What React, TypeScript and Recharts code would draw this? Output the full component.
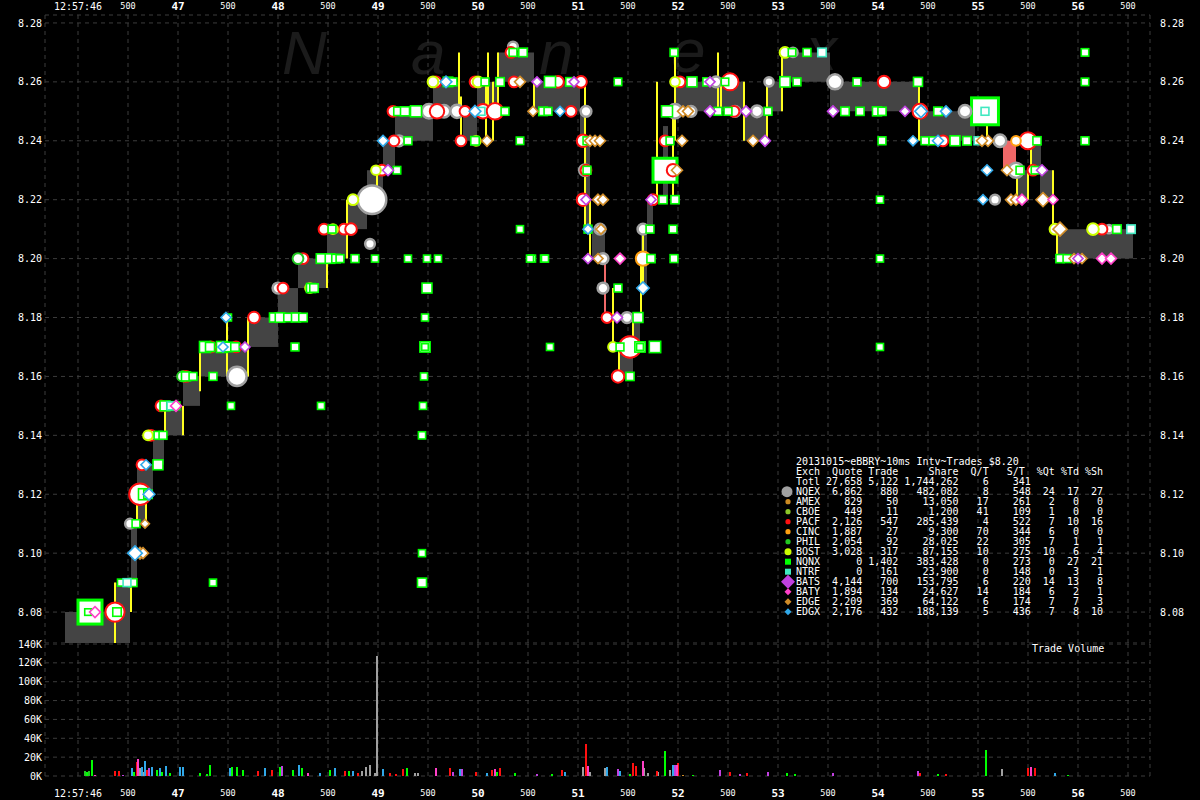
import { ComposedChart, Scatter, Bar, XAxis, YAxis, CartesianGrid, ReferenceArea, ReferenceLine } from "recharts"

// time axis: seconds after 12:57:00, ticks every 500ms
const TIME_DOMAIN = [45.67, 56.72]
const TIME_TICKS = [46, 46.5, 47, 47.5, 48, 48.5, 49, 49.5, 50, 50.5, 51, 51.5, 52, 52.5, 53, 53.5, 54, 54.5, 55, 55.5, 56, 56.5]
const PRICE_DOMAIN = [8.0695, 8.2827]
const PRICE_TICKS = [8.08, 8.1, 8.12, 8.14, 8.16, 8.18, 8.2, 8.22, 8.24, 8.26, 8.28]
const VOL_TICKS = [0, 20000, 40000, 60000, 80000, 100000, 120000, 140000]

// NBBO spread blocks: [from, to, bid, ask]
const NBBO_BANDS = [
  [45.87, 46.37, 8.0695, 8.08], [46.37, 46.52, 8.0695, 8.09], [46.53, 46.59, 8.09, 8.11],
  [46.59, 46.67, 8.11, 8.13], [46.67, 46.75, 8.12, 8.13], [46.75, 46.86, 8.13, 8.14],
  [46.88, 47.05, 8.14, 8.15], [47.05, 47.22, 8.15, 8.16], [47.22, 47.49, 8.16, 8.17],
  [47.5, 47.7, 8.16, 8.17], [47.7, 48.0, 8.17, 8.18], [48.0, 48.2, 8.18, 8.19],
  [48.2, 48.49, 8.19, 8.2], [48.49, 48.69, 8.2, 8.21], [48.69, 48.89, 8.21, 8.22],
  [48.89, 49.05, 8.22, 8.23], [49.05, 49.17, 8.23, 8.24], [49.17, 49.55, 8.24, 8.25],
  [49.55, 49.8, 8.25, 8.26], [49.85, 49.99, 8.24, 8.25], [49.99, 50.19, 8.25, 8.26],
  [50.2, 50.56, 8.26, 8.27], [50.56, 51.02, 8.25, 8.26], [51.02, 51.07, 8.24, 8.25],
  [51.07, 51.12, 8.21, 8.24], [51.14, 51.27, 8.2, 8.21], [51.4, 51.55, 8.16, 8.17],
  [51.54, 51.62, 8.17, 8.18], [51.63, 51.69, 8.19, 8.21], [51.69, 51.75, 8.21, 8.22],
  [51.85, 51.9, 8.22, 8.245], [51.96, 52.67, 8.25, 8.26], [52.67, 52.89, 8.24, 8.25],
  [52.89, 53.05, 8.25, 8.26], [53.05, 53.52, 8.26, 8.27], [53.52, 54.42, 8.25, 8.26],
  [54.42, 54.97, 8.24, 8.25], [55.39, 55.5, 8.22, 8.23], [55.52, 55.63, 8.23, 8.24],
  [55.62, 55.75, 8.22, 8.23], [55.8, 56.55, 8.2, 8.21],
]
// crossed / locked spots
const CROSSED_BANDS = [[55.25, 55.38, 8.23, 8.24], [51.26, 51.28, 8.18, 8.2]]

// trade connectors: [time, low, high]
const TRADE_LINKS = [
  [46.37, 8.0695, 8.09], [46.53, 8.08, 8.09], [46.59, 8.11, 8.12], [46.68, 8.11, 8.12],
  [46.87, 8.14, 8.15], [47.05, 8.14, 8.15], [47.22, 8.155, 8.17], [47.49, 8.16, 8.18],
  [47.7, 8.16, 8.18], [48.49, 8.19, 8.2], [48.69, 8.2, 8.22], [48.99, 8.22, 8.23],
  [49.81, 8.25, 8.27], [49.83, 8.24, 8.255], [50.08, 8.24, 8.26], [50.1, 8.25, 8.27],
  [50.15, 8.24, 8.26], [50.2, 8.25, 8.27], [50.56, 8.25, 8.26], [51.07, 8.21, 8.26],
  [51.12, 8.2, 8.22], [51.35, 8.17, 8.19], [51.41, 8.16, 8.17], [51.55, 8.17, 8.18],
  [51.63, 8.18, 8.2], [51.65, 8.19, 8.21], [51.79, 8.22, 8.26], [51.97, 8.24, 8.27],
  [51.95, 8.22, 8.25], [52.4, 8.25, 8.27], [52.43, 8.25, 8.26], [52.66, 8.24, 8.26],
  [52.89, 8.24, 8.26], [53.04, 8.25, 8.27], [54.41, 8.24, 8.26], [55.09, 8.24, 8.25],
  [55.39, 8.22, 8.23], [55.5, 8.22, 8.23], [55.53, 8.23, 8.24], [55.75, 8.21, 8.23],
  [55.79, 8.2, 8.21],
]

// trades / quotes: [time, price, shares]
const NQNX_TRADES = [
  [46.12, 8.08, 9000], [46.1, 8.08, 60], [46.39, 8.08, 300], [46.43, 8.09, 100], [46.55, 8.09, 200],
  [46.58, 8.11, 200], [46.66, 8.12, 900], [46.7, 8.12, 300], [46.8, 8.13, 600], [46.8, 8.14, 200],
  [46.85, 8.14, 200], [46.87, 8.15, 600], [46.93, 8.15, 300], [46.98, 8.15, 200], [47.08, 8.16, 400],
  [47.15, 8.16, 200], [47.35, 8.16, 200], [47.27, 8.17, 900], [47.32, 8.17, 400], [47.44, 8.17, 900],
  [47.5, 8.17, 500], [47.57, 8.17, 300], [47.5, 8.18, 100], [47.53, 8.15, 100], [47.35, 8.09, 100],
  [48.17, 8.17, 200], [47.96, 8.18, 400], [48.02, 8.18, 500], [48.1, 8.18, 300], [48.18, 8.18, 400],
  [48.25, 8.18, 300], [48.43, 8.15, 100], [48.33, 8.19, 400], [48.36, 8.19, 300], [48.43, 8.2, 500],
  [48.52, 8.2, 500], [48.58, 8.2, 300], [48.62, 8.2, 200], [48.77, 8.2, 200], [48.97, 8.2, 100],
  [48.54, 8.21, 200], [49.3, 8.2, 100], [49.49, 8.2, 100], [49.6, 8.2, 100], [50.54, 8.2, 100],
  [50.66, 8.2, 100], [50.42, 8.21, 100], [49.49, 8.19, 600], [49.47, 8.18, 100], [49.47, 8.17, 700],
  [49.47, 8.17, 60], [50.72, 8.17, 100], [49.46, 8.16, 100], [49.45, 8.15, 100], [49.44, 8.14, 120],
  [49.44, 8.1, 100], [49.44, 8.09, 400], [50.35, 8.27, 200], [50.45, 8.27, 300], [49.7, 8.26, 500],
  [49.75, 8.26, 200], [50.07, 8.26, 200], [50.22, 8.26, 300], [50.72, 8.26, 900], [50.92, 8.26, 300],
  [49.2, 8.25, 300], [49.27, 8.25, 400], [49.38, 8.25, 900], [50.27, 8.25, 200], [50.65, 8.25, 300],
  [50.7, 8.25, 200], [49.3, 8.24, 200], [49.97, 8.24, 300], [50.42, 8.24, 150], [49.19, 8.23, 150],
  [51.09, 8.24, 200], [51.09, 8.23, 200], [51.1, 8.21, 200], [51.4, 8.19, 200], [51.6, 8.18, 600],
  [51.42, 8.17, 200], [51.62, 8.17, 700], [51.62, 8.17, 80], [51.77, 8.17, 1000], [51.52, 8.16, 250],
  [51.73, 8.2, 250], [51.96, 8.2, 200], [51.72, 8.21, 200], [51.95, 8.21, 200], [51.85, 8.22, 250],
  [51.97, 8.22, 250], [51.87, 8.23, 9000], [51.92, 8.24, 200], [51.4, 8.26, 150], [51.96, 8.27, 200],
  [53.14, 8.27, 150], [53.29, 8.27, 200], [52.14, 8.26, 600], [52.29, 8.26, 250], [52.47, 8.26, 150],
  [53.07, 8.26, 700], [53.19, 8.26, 200], [53.79, 8.26, 200], [51.89, 8.25, 900], [52.4, 8.25, 200],
  [52.5, 8.25, 200], [52.9, 8.25, 200], [53.67, 8.25, 300], [53.82, 8.25, 250], [53.99, 8.25, 400],
  [54.04, 8.25, 250], [54.04, 8.24, 200], [54.02, 8.22, 100], [54.02, 8.2, 100], [54.02, 8.17, 100],
  [54.4, 8.26, 400], [56.07, 8.26, 150], [56.07, 8.27, 150], [54.6, 8.25, 300], [55.07, 8.25, 12000],
  [54.47, 8.24, 200], [54.55, 8.24, 200], [54.77, 8.24, 600], [54.89, 8.24, 300], [55.59, 8.24, 250],
  [56.07, 8.24, 200], [55.42, 8.23, 200], [55.57, 8.23, 150], [56.39, 8.21, 300], [55.82, 8.2, 250],
  [55.89, 8.2, 200], [50.52, 8.2, 100], [50.67, 8.2, 100],
]
const NTRF_TRADES = [
  [46.49, 8.09, 200], [46.93, 8.15, 200], [50.03, 8.25, 200], [53.44, 8.27, 300],
  [55.07, 8.25, 200], [55.0, 8.24, 200], [56.53, 8.21, 300],
]
const NQEX_QUOTES = [
  [46.52, 8.11, 200], [48.94, 8.22, 5000], [48.92, 8.205, 200], [47.59, 8.16, 1800], [48.0, 8.19, 300],
  [49.51, 8.25, 800], [49.66, 8.25, 500], [49.79, 8.25, 600], [49.21, 8.24, 300], [50.35, 8.272, 200],
  [51.08, 8.25, 300], [51.07, 8.23, 400], [51.22, 8.21, 300], [51.25, 8.2, 300], [51.25, 8.19, 300],
  [51.49, 8.18, 300], [51.65, 8.21, 300], [51.97, 8.25, 800], [53.57, 8.26, 900], [54.87, 8.25, 500],
  [55.22, 8.24, 500], [55.38, 8.23, 900], [55.17, 8.22, 200], [56.31, 8.21, 100], [52.13, 8.25, 300],
  [52.57, 8.25, 300], [52.79, 8.25, 400], [53.15, 8.27, 150], [52.91, 8.26, 150], [52.38, 8.26, 300],
]
const PACF_QUOTES = [
  [46.37, 8.08, 1800], [46.62, 8.12, 2500], [46.64, 8.13, 300], [46.73, 8.14, 300], [46.83, 8.15, 300],
  [47.08, 8.16, 300], [47.33, 8.17, 300], [47.58, 8.17, 300], [47.76, 8.18, 400], [48.05, 8.19, 300],
  [48.25, 8.2, 300], [48.46, 8.21, 300], [48.66, 8.21, 300], [48.73, 8.21, 400], [49.04, 8.23, 300],
  [49.16, 8.24, 300], [49.15, 8.25, 300], [49.59, 8.25, 800], [49.87, 8.25, 300], [50.05, 8.25, 800],
  [50.17, 8.25, 1200], [49.58, 8.26, 300], [49.97, 8.26, 300], [50.33, 8.27, 300], [50.36, 8.26, 300],
  [50.8, 8.26, 400], [50.93, 8.25, 300], [51.03, 8.26, 400], [49.83, 8.24, 300], [51.05, 8.24, 500],
  [51.08, 8.23, 300], [51.05, 8.22, 500], [51.29, 8.18, 300], [51.52, 8.17, 2500], [51.4, 8.16, 500],
  [51.75, 8.22, 300], [51.87, 8.24, 300], [51.95, 8.23, 500], [52.02, 8.26, 300], [52.52, 8.26, 1300],
  [52.56, 8.25, 300], [54.06, 8.26, 500], [54.42, 8.25, 900], [54.65, 8.24, 300], [55.5, 8.24, 1300],
  [55.55, 8.23, 300], [56.24, 8.21, 300],
]
const BOST_QUOTES = [
  [46.7, 8.14, 200], [47.05, 8.16, 200], [48.32, 8.19, 200], [48.75, 8.22, 300], [48.98, 8.23, 200],
  [49.55, 8.26, 300], [50.0, 8.26, 300], [49.98, 8.24, 200], [51.35, 8.17, 200], [51.97, 8.26, 200],
  [53.07, 8.27, 300], [55.77, 8.21, 300], [56.15, 8.21, 400], [48.55, 8.21, 200],
]
const PHIL_QUOTES = [[48.2, 8.2, 300], [47.04, 8.16, 200], [46.52, 8.09, 100]]
const CINC_QUOTES = [[51.65, 8.2, 800], [55.38, 8.24, 200]]
const BATS_QUOTES = [
  [47.67, 8.17, 200], [49.1, 8.23, 300], [51.1, 8.2, 200], [51.08, 8.22, 200], [51.39, 8.18, 300],
  [51.73, 8.22, 200], [52.32, 8.26, 200], [52.32, 8.25, 300], [52.68, 8.25, 300], [52.87, 8.24, 300],
  [53.55, 8.25, 300], [55.64, 8.23, 300], [50.59, 8.26, 200], [50.96, 8.26, 200], [54.27, 8.25, 200],
  [56.0, 8.2, 200],
]
const BATY_QUOTES = [
  [46.17, 8.08, 300], [46.98, 8.15, 300], [51.42, 8.2, 300], [55.44, 8.22, 300], [55.75, 8.22, 200],
  [56.24, 8.2, 300], [56.33, 8.2, 300],
]
const EDGE_QUOTES = [
  [46.62, 8.1, 400], [46.65, 8.1, 300], [46.67, 8.11, 100], [50.42, 8.26, 300], [50.55, 8.25, 200],
  [50.09, 8.24, 300], [51.12, 8.24, 300], [51.17, 8.24, 300], [51.22, 8.24, 300], [51.2, 8.22, 300],
  [51.25, 8.22, 300], [51.23, 8.21, 200], [51.2, 8.2, 200], [51.99, 8.23, 300], [52.05, 8.25, 300],
  [52.1, 8.25, 300], [52.04, 8.24, 300], [52.75, 8.24, 300], [55.1, 8.24, 300], [55.29, 8.23, 300],
  [55.33, 8.22, 300], [55.38, 8.22, 300], [55.65, 8.22, 800], [55.82, 8.21, 800], [55.96, 8.2, 200],
  [56.04, 8.2, 200], [55.04, 8.24, 300],
]
const EDGX_QUOTES = [
  [46.57, 8.1, 900], [46.71, 8.12, 400], [46.68, 8.13, 200], [47.45, 8.17, 200], [47.48, 8.18, 200],
  [49.05, 8.24, 300], [49.97, 8.25, 400], [49.68, 8.26, 400], [50.82, 8.25, 200], [51.65, 8.19, 500],
  [51.1, 8.21, 200], [54.43, 8.25, 500], [54.68, 8.25, 300], [54.6, 8.24, 300], [55.09, 8.23, 300],
  [55.05, 8.22, 200], [54.35, 8.24, 200],
]

// trade volume bars: [time, exchange, shares]
const TRADE_VOLUME = [
  [46.07, "PHIL", 5000], [46.09, "NQNX", 4500], [46.11, "PHIL", 5000], [46.14, "NQNX", 17000], [46.17, "BATY", 1000],
  [46.37, "PACF", 5000], [46.41, "PACF", 5000], [46.45, "BATS", 1500], [46.54, "EDGX", 9000], [46.56, "NQNX", 4000],
  [46.59, "PACF", 15000], [46.6, "BATY", 18000], [46.62, "NQEX", 8000], [46.64, "EDGX", 10000], [46.66, "NQEX", 4000],
  [46.67, "EDGX", 16000], [46.69, "PACF", 6000], [46.71, "BATS", 9000], [46.74, "EDGX", 10000], [46.79, "NQNX", 6000],
  [46.82, "EDGX", 9000], [46.84, "NQNX", 4000], [46.88, "EDGX", 11000], [46.92, "NQNX", 3000], [47.02, "EDGX", 10000],
  [47.05, "EDGX", 10000], [47.22, "NQNX", 3000], [47.29, "NQNX", 2000], [47.32, "NQNX", 12000], [47.52, "EDGX", 9000],
  [47.54, "NQNX", 10000], [47.59, "NQNX", 10000], [47.65, "NQNX", 6000], [47.8, "PACF", 5000], [47.87, "EDGX", 8000],
  [47.94, "PACF", 6000], [48.02, "NQNX", 10000], [48.04, "BATS", 11000], [48.15, "NQNX", 6000], [48.21, "EDGX", 12000],
  [48.24, "NQNX", 9000], [48.3, "BATY", 3000], [48.42, "EDGX", 3000], [48.52, "NQNX", 6000], [48.57, "EDGX", 9000],
  [48.67, "PACF", 5000], [48.71, "NQNX", 5000], [48.75, "EDGX", 5000], [48.8, "PACF", 3000], [48.84, "NQEX", 5000],
  [48.88, "NQEX", 10000], [48.92, "NQEX", 12000], [48.97, "NQEX", 3000], [48.99, "NQEX", 127000], [49.05, "EDGX", 7000],
  [49.12, "PACF", 3000], [49.18, "PACF", 2000], [49.25, "PACF", 7000], [49.29, "NQNX", 8000], [49.37, "NQEX", 3000],
  [49.4, "NQEX", 3000], [49.58, "BATY", 9000], [49.72, "PACF", 9000], [49.75, "BATS", 4000], [49.82, "EDGX", 7000],
  [49.84, "BATS", 7000], [49.98, "PACF", 4000], [50.09, "EDGX", 3000], [50.14, "PACF", 6000], [50.17, "BATY", 7000],
  [50.19, "NQNX", 4000], [50.22, "PACF", 8000], [50.37, "NQNX", 3000], [50.59, "BATS", 2000], [50.74, "NQNX", 2000],
  [50.84, "PACF", 6000], [50.87, "EDGX", 4000], [51.05, "NQEX", 10000], [51.08, "PACF", 34000], [51.1, "BATY", 11000],
  [51.12, "NQEX", 4000], [51.27, "NQEX", 9000], [51.29, "EDGX", 10000], [51.4, "BATS", 7000], [51.42, "EDGX", 5000],
  [51.52, "NQNX", 2000], [51.55, "PACF", 14000], [51.58, "PACF", 11000], [51.65, "BATY", 16000], [51.66, "NQEX", 8000],
  [51.7, "NQEX", 3000], [51.79, "PACF", 5000], [51.8, "NQEX", 4000], [51.87, "NQNX", 26000], [51.92, "NQEX", 6000],
  [51.95, "EDGX", 12000], [51.97, "BATS", 12000], [51.99, "BATY", 12000], [52.0, "PACF", 14000], [52.05, "EDGE", 1000],
  [52.15, "NQNX", 1000], [52.42, "BATS", 6000], [52.52, "PACF", 4000], [52.62, "BATS", 2000], [52.69, "PACF", 3000],
  [52.9, "BATS", 4000], [53.09, "NQNX", 3000], [53.17, "NQNX", 2000], [53.55, "BATS", 3000], [54.4, "BATS", 5000],
  [54.42, "PACF", 3000], [54.6, "NQNX", 2000], [54.68, "PACF", 2000], [55.08, "NQNX", 28000], [55.24, "NQEX", 7000],
  [55.5, "PACF", 9000], [55.53, "BATY", 10000], [55.57, "PACF", 8000], [55.77, "EDGX", 3000], [55.9, "NQNX", 1500],
]

// summary table
const EXCHANGES = ["NQEX", "AMEX", "CBOE", "PACF", "CINC", "PHIL", "BOST", "NQNX", "NTRF", "BATS", "BATY", "EDGE", "EDGX"]
const EX_QUOTES = [6862, 829, 449, 2126, 1887, 2054, 3028, 0, 0, 4144, 1894, 2209, 2176]
const EX_TRADES = [880, 50, 11, 547, 27, 92, 317, 1402, 161, 700, 134, 369, 432]
const EX_SHARES = [482082, 13050, 1200, 285439, 9300, 28025, 87155, 383428, 23900, 153795, 24627, 64122, 188139]
const EX_QT = [8, 17, 41, 4, 70, 22, 10, 0, 0, 6, 14, 6, 5]
const EX_ST = [548, 261, 109, 522, 344, 305, 275, 273, 148, 220, 184, 174, 436]
const EX_PCT_QT = [24, 2, 1, 7, 6, 7, 10, 0, 0, 14, 6, 7, 7]
const EX_PCT_TD = [17, 0, 0, 10, 0, 1, 6, 27, 3, 13, 2, 7, 8]
const EX_PCT_SH = [27, 0, 0, 16, 0, 1, 4, 21, 1, 8, 1, 3, 10]
const TOTALS = [27658, 5122, 1744262, 6, 341]

const COLORS: Record<string, string> = {
  NQEX: "#a0a0a0", AMEX: "#cc8a22", CBOE: "#8cc628", PACF: "#ff1010", CINC: "#ffa010",
  PHIL: "#22c822", BOST: "#ccff00", NQNX: "#00ff00", NTRF: "#40e8c0", BATS: "#c040e0",
  BATY: "#ff40c8", EDGE: "#d08c28", EDGX: "#30a8e8",
}
const MARKER: Record<string, string> = {
  NQEX: "circle", AMEX: "circle", CBOE: "circle", PACF: "circle", CINC: "circle", PHIL: "circle",
  BOST: "circle", NQNX: "square", NTRF: "square", BATS: "diamond", BATY: "diamond", EDGE: "diamond", EDGX: "diamond",
}

const MONO = "'DejaVu Sans Mono', monospace"
const toPts = (rows: number[][]) => rows.map(([t, p, s]) => ({ t, p, s }))

const volRows = (() => {
  const m = new Map<number, any>()
  for (const [t, ex, v] of TRADE_VOLUME as any[]) {
    const r = m.get(t) ?? { t }
    r[ex] = (r[ex] ?? 0) + v
    m.set(t, r)
  }
  return [...m.values()].sort((a, b) => a.t - b.t)
})()

const makeShape = (ex: string) => (props: any) => {
  const { cx, cy, payload } = props
  if (cx == null || cy == null) return null
  const color = COLORS[ex]
  const s = payload.s
  const kind = MARKER[ex]
  if (kind === "square") {
    const h = 2.5 + Math.sqrt(s) / 10
    return <rect x={cx - h} y={cy - h} width={2 * h} height={2 * h} fill="#fff" stroke={color} strokeWidth={h > 8 ? 3 : 1.6} />
  }
  if (kind === "diamond") {
    const h = 3 + Math.sqrt(s) / 7
    return <polygon points={`${cx},${cy - h} ${cx + h},${cy} ${cx},${cy + h} ${cx - h},${cy}`} fill="#fff" stroke={color} strokeWidth={1.6} />
  }
  const r = 2.5 + Math.sqrt(s) / 6
  return <circle cx={cx} cy={cy} r={r} fill="#fff" stroke={color} strokeWidth={ex === "NQEX" ? 2.5 : 2} />
}

// thin crisp volume sticks
const VolBar = (props: any) => {
  const { x, y, width, height, fill } = props
  if (!height || height <= 0) return null
  const cx = Math.round(x + width / 2)
  return <rect x={cx - 1} y={y} width={2} height={height} fill={fill} shapeRendering="crispEdges" />
}

const TimeTick = (props: any) => {
  const { x, y, payload } = props
  const v = payload.value
  const whole = Math.abs(v - Math.round(v)) < 0.01
  const first = v === 46
  const label = first ? "12:57:46" : whole ? String(Math.round(v)) : "500"
  return (
    <text x={x} y={y} textAnchor="middle" dominantBaseline="central" fill="#fff" fontFamily={MONO}
      fontSize={first ? 10 : whole ? 11 : 8.5} fontWeight={whole && !first ? "bold" : "normal"}>
      {label}
    </text>
  )
}

const axisText = { fill: "#fff", fontSize: 10, fontFamily: MONO }

const fmt = (n: number) => n.toLocaleString("en-US")
const tableLines = [
  "20131015~eBBRY~10ms Intv~Trades $8.20",
  "Exch" + "Quote".padStart(7) + "Trade".padStart(6) + "Share".padStart(10) + "Q/T".padStart(5) + "S/T".padStart(6) + "%Qt".padStart(5) + "%Td".padStart(4) + "%Sh".padStart(4),
  "Totl" + fmt(TOTALS[0]).padStart(7) + fmt(TOTALS[1]).padStart(6) + fmt(TOTALS[2]).padStart(10) + String(TOTALS[3]).padStart(5) + String(TOTALS[4]).padStart(7),
  ...EXCHANGES.map((ex, i) =>
    ex + fmt(EX_QUOTES[i]).padStart(7) + fmt(EX_TRADES[i]).padStart(6) + fmt(EX_SHARES[i]).padStart(10) +
    String(EX_QT[i]).padStart(5) + String(EX_ST[i]).padStart(7) + String(EX_PCT_QT[i]).padStart(4) +
    String(EX_PCT_TD[i]).padStart(4) + String(EX_PCT_SH[i]).padStart(4)),
]

const LegendMark = ({ ex, y }: { ex: string; y: number }) => {
  const c = COLORS[ex]
  const x = 788
  if (ex === "NQEX") return <circle cx={x - 1} cy={y} r={5.5} fill={c} />
  if (ex === "BATS") return <polygon points={`${x},${y - 7} ${x + 7},${y} ${x},${y + 7} ${x - 7},${y}`} fill={c} />
  if (ex === "BOST") return <circle cx={x} cy={y} r={3.5} fill={c} />
  if (MARKER[ex] === "square") return <rect x={x - 3} y={y - 3} width={6} height={6} fill={c} />
  if (MARKER[ex] === "diamond") return <polygon points={`${x},${y - 3.5} ${x + 3.5},${y} ${x},${y + 3.5} ${x - 3.5},${y}`} fill={c} />
  return <circle cx={x} cy={y} r={2.6} fill={c} />
}

const CIRCLE_SERIES: [string, number[][]][] = [
  ["NQEX", NQEX_QUOTES], ["PACF", PACF_QUOTES], ["BOST", BOST_QUOTES], ["PHIL", PHIL_QUOTES], ["CINC", CINC_QUOTES],
]
const DIAMOND_SERIES: [string, number[][]][] = [
  ["EDGE", EDGE_QUOTES], ["EDGX", EDGX_QUOTES], ["BATS", BATS_QUOTES], ["BATY", BATY_QUOTES],
]
const bigTrades = NQNX_TRADES.filter((r) => r[2] >= 5000)
const smallTrades = NQNX_TRADES.filter((r) => r[2] < 5000)
const VOL_EXCH = ["NQEX", "PACF", "NQNX", "PHIL", "EDGX", "BATS", "BATY", "EDGE"]

export default function App() {
  return (
    <div style={{ position: "fixed", left: 0, top: 0, width: 1200, height: 800, background: "#000", overflow: "hidden" }}>
      <svg width={1200} height={120} style={{ position: "absolute", left: 0, top: 0 }}>
        <g fill="#1b1b1b" fontFamily="'Liberation Sans', Arial, sans-serif" fontStyle="italic" fontSize={62}>
          <text x={282} y={74}>N</text>
          <text x={411} y={74}>a</text>
          <text x={539} y={74}>n</text>
          <text x={671} y={72}>e</text>
          <text x={806} y={70}>x</text>
        </g>
      </svg>

      <div style={{ position: "absolute", left: 0, top: 0 }}>
        <ComposedChart width={1200} height={643} margin={{ top: 0, right: 0, bottom: 0, left: 0 }}>
          <CartesianGrid stroke="#3c3c3c" strokeDasharray="4 4" />
          <XAxis dataKey="t" type="number" orientation="top" domain={TIME_DOMAIN} ticks={TIME_TICKS} allowDataOverflow
            height={15} tickSize={0} tickMargin={9} axisLine={false} tickLine={false} tick={<TimeTick />} interval={0} />
          <YAxis dataKey="p" type="number" domain={PRICE_DOMAIN} ticks={PRICE_TICKS} allowDataOverflow width={45}
            tickSize={0} tickMargin={3} axisLine={false} tickLine={false} tick={axisText} tickFormatter={(v) => v.toFixed(2)} interval={0} />
          <YAxis yAxisId="r" orientation="right" dataKey="p" type="number" domain={PRICE_DOMAIN} ticks={PRICE_TICKS} allowDataOverflow width={50}
            tickSize={0} tickMargin={10} axisLine={false} tickLine={false} tick={{ ...axisText, textAnchor: "start" }} tickFormatter={(v) => v.toFixed(2)} interval={0} />
          {NBBO_BANDS.map((b, i) => (
            <ReferenceArea key={"b" + i} x1={b[0]} x2={b[1]} y1={b[2]} y2={b[3]} fill="#444444" fillOpacity={1} stroke="none" ifOverflow="hidden" />
          ))}
          {CROSSED_BANDS.map((b, i) => (
            <ReferenceArea key={"c" + i} x1={b[0]} x2={b[1]} y1={b[2]} y2={b[3]} fill="#f06868" fillOpacity={1} stroke="none" ifOverflow="hidden" />
          ))}
          {TRADE_LINKS.map((l, i) => (
            <ReferenceLine key={"l" + i} segment={[{ x: l[0], y: l[1] }, { x: l[0], y: l[2] }]} stroke="#ffff20" strokeWidth={2} strokeOpacity={1} ifOverflow="hidden" />
          ))}
          <Scatter name="NQNX big" data={toPts(bigTrades)} dataKey="p" shape={makeShape("NQNX")} isAnimationActive={false} />
          {CIRCLE_SERIES.map(([ex, rows]) => (
            <Scatter key={ex} name={ex} data={toPts(rows)} dataKey="p" shape={makeShape(ex)} isAnimationActive={false} />
          ))}
          <Scatter name="NQNX" data={toPts(smallTrades)} dataKey="p" shape={makeShape("NQNX")} isAnimationActive={false} />
          <Scatter name="NTRF" data={toPts(NTRF_TRADES)} dataKey="p" shape={makeShape("NTRF")} isAnimationActive={false} />
          {DIAMOND_SERIES.map(([ex, rows]) => (
            <Scatter key={ex} name={ex} data={toPts(rows)} dataKey="p" shape={makeShape(ex)} isAnimationActive={false} />
          ))}
        </ComposedChart>
      </div>

      <div style={{ position: "absolute", left: 0, top: 630 }}>
        <ComposedChart width={1200} height={170} data={volRows} margin={{ top: 14, right: 0, bottom: 0, left: 0 }}>
          <CartesianGrid stroke="#3c3c3c" strokeDasharray="4 4" />
          <XAxis dataKey="t" type="number" domain={TIME_DOMAIN} ticks={TIME_TICKS} allowDataOverflow height={24}
            tickSize={0} tickMargin={17} axisLine={false} tickLine={false} tick={<TimeTick />} interval={0} />
          <YAxis type="number" domain={[0, 140000]} ticks={VOL_TICKS} width={45} tickSize={0} tickMargin={3}
            axisLine={false} tickLine={false} tick={axisText} tickFormatter={(v) => `${v / 1000}K`} interval={0} />
          <YAxis yAxisId="r" orientation="right" type="number" domain={[0, 140000]} ticks={VOL_TICKS} width={50} tickSize={0} tickMargin={7}
            axisLine={false} tickLine={false} tick={{ ...axisText, textAnchor: "start" }} tickFormatter={(v) => `${v / 1000}K`} interval={0} />
          {VOL_EXCH.map((ex) => (
            <Bar key={ex} dataKey={ex} stackId="v" fill={COLORS[ex]} barSize={2} shape={<VolBar />} isAnimationActive={false} />
          ))}
        </ComposedChart>
      </div>

      <svg width={1200} height={800} style={{ position: "absolute", left: 0, top: 0, pointerEvents: "none" }}>
        {tableLines.map((line, i) => (
          <text key={i} x={796} y={465 + i * 10} fill="#fff" fontFamily={MONO} fontSize={10} style={{ whiteSpace: "pre" }}>
            {line}
          </text>
        ))}
        {EXCHANGES.map((ex, i) => (
          <LegendMark key={ex} ex={ex} y={491.7 + i * 10} />
        ))}
        <text x={1032} y={651.5} fill="#fff" fontFamily={MONO} fontSize={10} style={{ whiteSpace: "pre" }}>Trade Volume</text>
      </svg>
    </div>
  )
}
